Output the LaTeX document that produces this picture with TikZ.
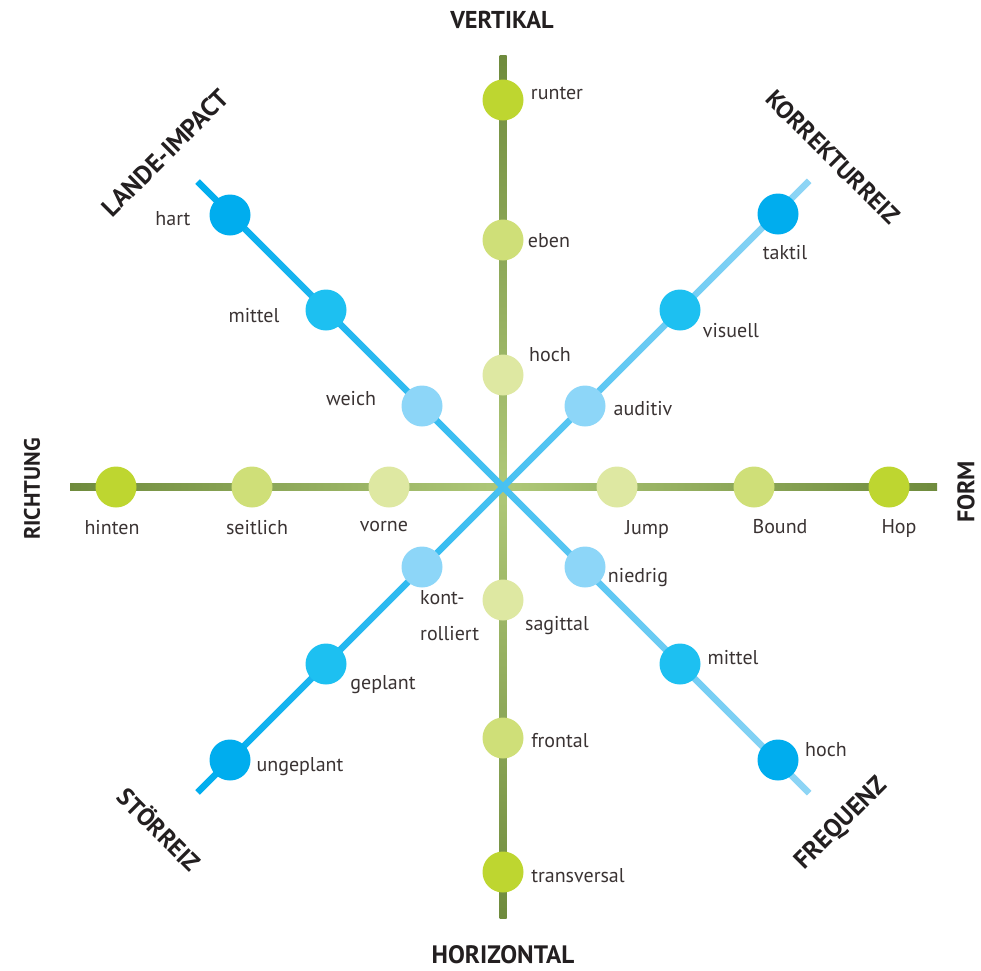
\documentclass[tikz,border=0pt]{standalone}
\usepackage{fontspec}
\setmainfont{PT Sans}
\usetikzlibrary{calc}
\definecolor{gdark}{HTML}{6F8B3D}
\definecolor{glight}{HTML}{AFC878}
\definecolor{bstrong}{HTML}{00ADEE}
\definecolor{bpale}{HTML}{CDEDFA}
\definecolor{blight}{HTML}{8FD5F5}
\definecolor{lime1}{HTML}{BED630}
\definecolor{lime2}{HTML}{CFDF78}
\definecolor{lime3}{HTML}{DEE8A2}
\definecolor{blue1}{HTML}{00ADEE}
\definecolor{blue2}{HTML}{1DC0F1}
\definecolor{blue3}{HTML}{8DD6F8}
\definecolor{labelc}{HTML}{3A3333}
\definecolor{axisc}{HTML}{231F20}
\begin{document}
\begin{tikzpicture}[x=1pt,y=1pt,
  lbl/.style={font=\fontsize{20}{22}\selectfont, text=labelc, inner sep=0pt, text height=14pt, text depth=0pt},
  ax/.style={font=\fontsize{#1}{#1}\selectfont\bfseries, text=axisc, inner sep=0pt, text height=0.7*#1, text depth=0pt},
  dot/.style={circle, minimum size=41pt, inner sep=0pt, draw=none}]
\useasboundingbox (0,0) rectangle (981,-970);
% axis end points
\coordinate (C) at (503,-487);
\coordinate (Vt) at (503,-55);
\coordinate (Vb) at (503,-918);
\coordinate (Hl) at (70,-487);
\coordinate (Hr) at (937,-487);
% green axes
\shade[top color=gdark, bottom color=gdark, middle color=glight] ($(Vt)+(-3.5,0)$) rectangle ($(Vb)+(3.5,0)$);
\shade[left color=gdark, right color=gdark, middle color=glight] ($(Hl)+(0,3.5)$) rectangle ($(Hr)+(0,-3.5)$);
% blue diagonals
\begin{scope}[shift={(C)}, rotate=-45]
  \shade[left color=bstrong, middle color=bpale, right color=blight] (-432,-3.2) rectangle (433,3.2);
\end{scope}
\begin{scope}[shift={(C)}, rotate=45]
  \shade[left color=bstrong, middle color=bpale, right color=blight] (-432,-3.2) rectangle (433,3.2);
\end{scope}
% vertical axis dots
\node[dot, fill=lime1] (runter) at (503,-100) {};
\node[dot, fill=lime2] (eben) at (503,-240) {};
\node[dot, fill=lime3] (hochV) at (503,-375) {};
\node[dot, fill=lime3] (sagittal) at (503,-600) {};
\node[dot, fill=lime2] (frontal) at (503,-738) {};
\node[dot, fill=lime1] (transversal) at (503,-872) {};
% horizontal axis dots
\node[dot, fill=lime1] (hinten) at (116,-487) {};
\node[dot, fill=lime2] (seitlich) at (252,-487) {};
\node[dot, fill=lime3] (vorne) at (389,-487) {};
\node[dot, fill=lime3] (jump) at (617,-487) {};
\node[dot, fill=lime2] (bound) at (754,-487) {};
\node[dot, fill=lime1] (hop) at (889,-487) {};
% diagonal dots
\node[dot, fill=blue1] (hart) at (230,-215) {};
\node[dot, fill=blue2] (mittelNW) at (326,-310) {};
\node[dot, fill=blue3] (weich) at (422,-406) {};
\node[dot, fill=blue1] (taktil) at (778,-214) {};
\node[dot, fill=blue2] (visuell) at (680,-310) {};
\node[dot, fill=blue3] (auditiv) at (585,-406) {};
\node[dot, fill=blue3] (kontrolliert) at (422,-567) {};
\node[dot, fill=blue2] (geplant) at (326,-664) {};
\node[dot, fill=blue1] (ungeplant) at (230,-760) {};
\node[dot, fill=blue3] (niedrig) at (585,-567) {};
\node[dot, fill=blue2] (mittelSE) at (680,-664) {};
\node[dot, fill=blue1] (hochSE) at (778,-760) {};
% labels
\node[lbl] (t-runter) at (557,-92) {runter};
\node[lbl] (t-eben) at (549,-240) {eben};
\node[lbl] (t-hochV) at (550,-354) {hoch};
\node[lbl] (t-sagittal) at (557,-623) {sagittal};
\node[lbl] (t-frontal) at (560,-740) {frontal};
\node[lbl] (t-transversal) at (578,-875) {transversal};
\node[lbl] (t-hinten) at (112,-527) {hinten};
\node[lbl] (t-seitlich) at (257,-527) {seitlich};
\node[lbl] (t-vorne) at (384,-524) {vorne};
\node[lbl] (t-jump) at (647,-527) {Jump};
\node[lbl] (t-bound) at (780,-526) {Bound};
\node[lbl] (t-hop) at (899,-526) {Hop};
\node[lbl] (t-hart) at (173,-218) {hart};
\node[lbl] (t-mittelNW) at (254,-315) {mittel};
\node[lbl] (t-weich) at (351,-398) {weich};
\node[lbl] (t-taktil) at (785,-252) {taktil};
\node[lbl] (t-visuell) at (731,-330) {visuell};
\node[lbl] (t-auditiv) at (643,-408) {auditiv};
\node[lbl, anchor=west] (t-kont) at (420,-597) {kont-};
\node[lbl, anchor=west] (t-rolliert) at (420,-633) {rolliert};
\node[lbl] (t-geplant) at (383,-682) {geplant};
\node[lbl] (t-ungeplant) at (300,-764) {ungeplant};
\node[lbl] (t-niedrig) at (638,-575) {niedrig};
\node[lbl] (t-mittelSE) at (733,-657) {mittel};
\node[lbl] (t-hochSE) at (826,-749) {hoch};
% axis titles
\node[ax=24.4] (a-vert) at (502,-20) {VERTIKAL};
\node[ax=25.2] (a-hor) at (503,-955) {HORIZONTAL};
\node[ax=22.3, rotate=90] (a-richt) at (32,-489) {RICHTUNG};
\node[ax=24, rotate=90] (a-form) at (966,-492) {FORM};
\node[ax=25.5, rotate=45] (a-lande) at (165,-153) {LANDE-IMPACT};
\node[ax=24.4, rotate=-45] (a-korr) at (833,-157) {KORREKTURREIZ};
\node[ax=24.6, rotate=-45] (a-stoer) at (159,-830) {STÖRREIZ};
\node[ax=25.5, rotate=45] (a-freq) at (840,-822) {FREQUENZ};
\end{tikzpicture}
\end{document}
